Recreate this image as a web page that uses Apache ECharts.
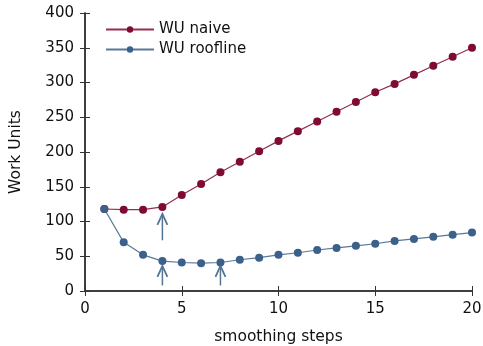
<!DOCTYPE html>
<html>
<head>
<meta charset="utf-8">
<script src="https://cdn.jsdelivr.net/npm/echarts@6/dist/echarts.min.js"></script>
<style>
  html, body { margin: 0; padding: 0; background: #fff; }
  #chart { width: 483px; height: 346px; }
</style>
</head>
<body>
<div id="chart"></div>
<script>
const steps = [1, 2, 3, 4, 5, 6, 7, 8, 9, 10, 11, 12, 13, 14, 15, 16, 17, 18, 19, 20]
const wuNaive = [118, 117, 117, 121, 138, 154, 171, 186, 201, 216, 230, 244, 258, 272, 286, 298, 311, 324, 337, 350]
const wuRoofline = [118, 70, 52, 43, 41, 40, 41, 45, 48, 52, 55, 59, 62, 65, 68, 72, 75, 78, 81, 84]
// arrows: [x, yFrom, yTo]
const arrows = [[4, 73, 111], [4, 8, 36], [7, 8, 36]]

const naiveColor = '#7f0a33'
const roofColor = '#3b6089'
const axisColor = '#333'
const font = 'DejaVu Sans'

const chart = echarts.init(document.getElementById('chart'))

const hiddenAxis = {
  axisLine: { show: true, lineStyle: { color: axisColor, width: 1.5 } },
  axisTick: { show: true, inside: true, length: 5, lineStyle: { color: axisColor, width: 1 } },
  axisLabel: { show: false },
  splitLine: { show: false }
}

const option = {
  animation: false,
  textStyle: { fontFamily: font },
  grid: { left: 85, right: 11, top: 13, bottom: 55, outerBoundsMode: 'none' },
  legend: {
    left: 100,
    top: 17,
    orient: 'vertical',
    itemWidth: 48,
    itemHeight: 8,
    itemGap: 5,
    textStyle: { fontSize: 15, color: '#111', fontFamily: font },
    data: ['WU naive', 'WU roofline']
  },
  xAxis: [
    {
      type: 'value',
      min: 0,
      max: 20,
      interval: 5,
      name: 'smoothing steps',
      nameLocation: 'middle',
      nameGap: 38,
      nameTextStyle: { fontSize: 15.5, color: '#111' },
      axisLine: { show: true, lineStyle: { color: axisColor, width: 1.5 } },
      axisTick: { show: true, inside: true, length: 5, lineStyle: { color: axisColor } },
      axisLabel: { fontSize: 15, color: '#111', margin: 11 },
      splitLine: { show: false }
    },
    Object.assign({ type: 'value', min: 0, max: 20, interval: 5, position: 'top' }, hiddenAxis)
  ],
  yAxis: [
    {
      type: 'value',
      min: 0,
      max: 400,
      interval: 50,
      name: 'Work Units',
      nameLocation: 'middle',
      nameGap: 61,
      nameTextStyle: { fontSize: 15.5, color: '#111' },
      axisLine: { show: true, lineStyle: { color: axisColor, width: 1.5 } },
      axisTick: { show: true, inside: true, length: 5, lineStyle: { color: axisColor } },
      axisLabel: { fontSize: 15, color: '#111', margin: 11 },
      splitLine: { show: false }
    },
    Object.assign({ type: 'value', min: 0, max: 400, interval: 50, position: 'right' }, hiddenAxis)
  ],
  series: [
    {
      name: 'WU naive',
      type: 'line',
      data: steps.map((s, i) => [s, wuNaive[i]]),
      symbol: 'circle',
      symbolSize: 8,
      itemStyle: { color: naiveColor },
      lineStyle: { color: naiveColor, width: 1.2, opacity: 0.85 },
      z: 3
    },
    {
      name: 'WU roofline',
      type: 'line',
      data: steps.map((s, i) => [s, wuRoofline[i]]),
      symbol: 'circle',
      symbolSize: 8,
      itemStyle: { color: roofColor },
      lineStyle: { color: roofColor, width: 1.2, opacity: 0.85 },
      z: 3
    },
    {
      type: 'custom',
      silent: true,
      data: arrows,
      renderItem: function (params, api) {
        const base = api.coord([api.value(0), api.value(1)])
        const tip = api.coord([api.value(0), api.value(2)])
        return {
          type: 'group',
          children: [
            {
              type: 'line',
              shape: { x1: base[0], y1: base[1], x2: tip[0], y2: tip[1] },
              style: { stroke: '#557594', lineWidth: 1.5 }
            },
            {
              type: 'polyline',
              shape: { points: [[tip[0] - 5, tip[1] + 11], [tip[0], tip[1]], [tip[0] + 5, tip[1] + 11]] },
              style: { stroke: '#557594', lineWidth: 1.8, fill: null }
            }
          ]
        }
      },
      z: 2
    }
  ]
}

chart.setOption(option)
</script>
</body>
</html>
